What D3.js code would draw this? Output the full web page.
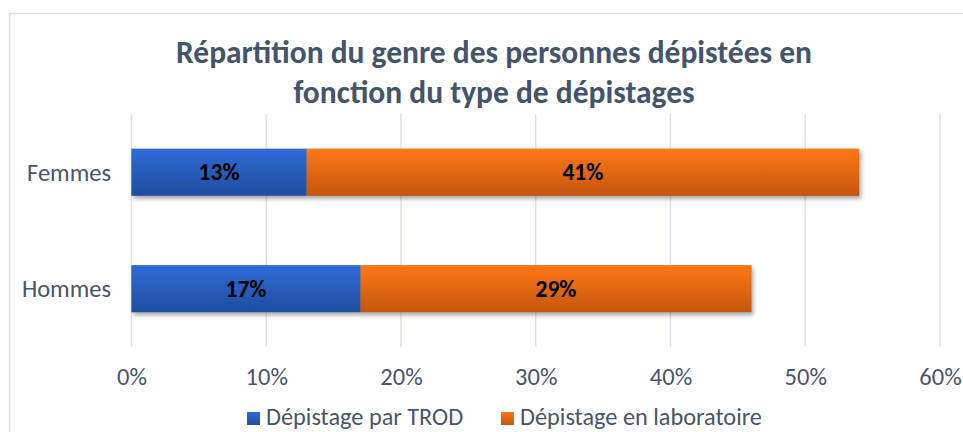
<!DOCTYPE html>
<meta charset="utf-8">
<title>Répartition du genre</title>
<style>
  body { margin: 0; background: #fff; }
  text { font-family: Calibri, Carlito, Lato, "Open Sans", sans-serif; }
  .grid line { stroke: #dde1ea; stroke-width: 1.5px; }
  .axis text { fill: #4a5568; font-size: 24.5px; }
</style>
<svg width="963" height="432"></svg>
<script src="https://d3js.org/d3.v7.min.js"></script>
<script>
  var categories = ["Femmes", "Hommes"];
  var trod = [0.13, 0.17];
  var labo = [0.41, 0.29];
  var seriesNames = ["Dépistage par TROD", "Dépistage en laboratoire"];
  var ticks = [0, 0.1, 0.2, 0.3, 0.4, 0.5, 0.6];
  var titleLines = ["Répartition du genre des personnes dépistées en", "fonction du type de dépistages"];

  var svg = d3.select("svg");

  // chart frame
  svg.append("rect")
    .attr("x", 9.5).attr("y", 13.5)
    .attr("width", 1000).attr("height", 500)
    .attr("fill", "#fff").attr("stroke", "#d9dde5").attr("stroke-width", 1.5);

  var defs = svg.append("defs");
  function grad(id, top, bottom) {
    var g = defs.append("linearGradient").attr("id", id)
      .attr("x1", 0).attr("y1", 0).attr("x2", 0).attr("y2", 1);
    g.append("stop").attr("offset", "0%").attr("stop-color", top);
    g.append("stop").attr("offset", "100%").attr("stop-color", bottom);
  }
  grad("gBlue", "#2f6bd8", "#1f4d9e");
  grad("gOrange", "#ff7716", "#c4560f");
  var f = defs.append("filter").attr("id", "shadow")
    .attr("x", "-10%").attr("y", "-30%").attr("width", "130%").attr("height", "190%");
  f.append("feDropShadow").attr("dx", 2).attr("dy", 3)
    .attr("stdDeviation", 2).attr("flood-color", "#000").attr("flood-opacity", 0.35);

  var x = d3.scaleLinear().domain([0, 0.6]).range([131.5, 940]);
  var y = d3.scaleBand().domain(categories).range([114, 347])
    .paddingInner(0.597).paddingOuter(0.2985);

  // title
  svg.append("g").selectAll("text")
    .data(titleLines)
    .enter().append("text")
    .attr("x", 494)
    .attr("y", function (d, i) { return 63 + i * 40; })
    .attr("text-anchor", "middle")
    .attr("font-size", 31.5)
    .attr("font-weight", "bold")
    .attr("fill", "#44546a")
    .text(function (d) { return d; });

  // gridlines
  svg.append("g").attr("class", "grid")
    .selectAll("line")
    .data(ticks)
    .enter().append("line")
    .attr("x1", function (d) { return x(d); })
    .attr("x2", function (d) { return x(d); })
    .attr("y1", 114).attr("y2", 347);

  // x axis labels
  var xAxis = svg.append("g").attr("class", "axis")
    .attr("transform", "translate(0,347)")
    .call(d3.axisBottom(x).tickValues(ticks).tickFormat(d3.format(".0%")).tickSize(0).tickPadding(21));
  xAxis.select(".domain").remove();

  // y axis labels
  var yAxis = svg.append("g").attr("class", "axis")
    .attr("transform", "translate(111,0)")
    .call(d3.axisLeft(y).tickSize(0).tickPadding(0));
  yAxis.select(".domain").remove();
  yAxis.selectAll("text").attr("dy", "0.35em");

  var rows = categories.map(function (c, i) {
    return [
      { cat: c, x0: 0, x1: trod[i], v: trod[i], fill: "url(#gBlue)" },
      { cat: c, x0: trod[i], x1: trod[i] + labo[i], v: labo[i], fill: "url(#gOrange)" }
    ];
  });

  var barG = svg.append("g");
  // shadow under whole bar
  barG.selectAll("rect.sh")
    .data(rows)
    .enter().append("rect")
    .attr("class", "sh")
    .attr("x", function (d) { return x(d[0].x0); })
    .attr("y", function (d) { return y(d[0].cat); })
    .attr("width", function (d) { return x(d[1].x1) - x(d[0].x0); })
    .attr("height", y.bandwidth())
    .attr("fill", "#888")
    .attr("filter", "url(#shadow)");

  var segs = [].concat.apply([], rows);
  barG.selectAll("rect.seg")
    .data(segs)
    .enter().append("rect")
    .attr("class", "seg")
    .attr("x", function (d) { return x(d.x0); })
    .attr("y", function (d) { return y(d.cat); })
    .attr("width", function (d) { return x(d.x1) - x(d.x0); })
    .attr("height", y.bandwidth())
    .attr("fill", function (d) { return d.fill; });

  barG.selectAll("text")
    .data(segs)
    .enter().append("text")
    .attr("x", function (d) { return (x(d.x0) + x(d.x1)) / 2; })
    .attr("y", function (d) { return y(d.cat) + y.bandwidth() / 2; })
    .attr("dy", "0.35em")
    .attr("text-anchor", "middle")
    .attr("font-size", 23.5)
    .attr("font-weight", "bold")
    .attr("fill", "#000")
    .text(function (d) { return d3.format(".0%")(d.v); });

  // legend
  var legX = [247, 501];
  var leg = svg.append("g").selectAll("g")
    .data(seriesNames)
    .enter().append("g")
    .attr("transform", function (d, i) { return "translate(" + legX[i] + ",412)"; });
  leg.append("rect")
    .attr("width", 13).attr("height", 13)
    .attr("fill", function (d, i) { return i === 0 ? "url(#gBlue)" : "url(#gOrange)"; });
  leg.append("text")
    .attr("x", 19).attr("y", 13)
    .attr("font-size", 24.3).attr("fill", "#4a5568")
    .text(function (d) { return d; });
</script>
